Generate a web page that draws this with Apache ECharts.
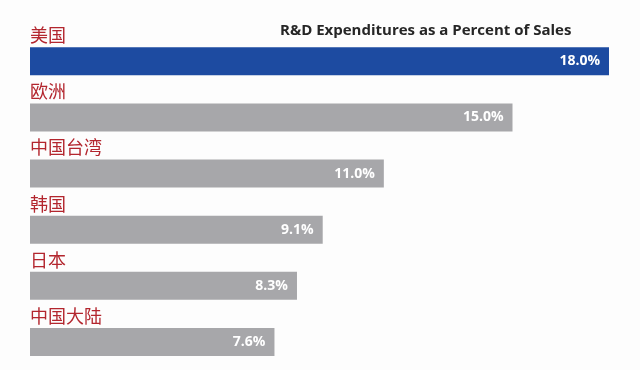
<!DOCTYPE html>
<html>
<head>
<meta charset="utf-8">
<script src="https://cdn.jsdelivr.net/npm/echarts@6/dist/echarts.min.js"></script>
<style>html,body{margin:0;padding:0;background:#fdfdfd;}#c{width:640px;height:370px;}</style>
</head>
<body>
<div id="c"></div>
<script>
var title = 'R&D Expenditures as a Percent of Sales';
var categories = ['美国', '欧洲', '中国台湾', '韩国', '日本', '中国大陆'];
var values = [18.0, 15.0, 11.0, 9.1, 8.3, 7.6];
var barColors = ['#1d4ba1', '#a7a7aa', '#a7a7aa', '#a7a7aa', '#a7a7aa', '#a7a7aa'];

var chart = echarts.init(document.getElementById('c'), null, {renderer: 'canvas'});
chart.setOption({
  backgroundColor: '#fdfdfd',
  animation: false,
  title: {
    text: title,
    left: 275,
    top: 18,
    textStyle: {fontFamily: 'Open Sans', fontWeight: 'bold', fontSize: 15, color: '#262626'}
  },
  grid: {left: 30, right: 31, top: 33.2, height: 339.6, containLabel: false},
  xAxis: {
    type: 'value', min: 0, max: 18, show: false
  },
  yAxis: {
    type: 'category',
    data: categories,
    inverse: true,
    axisLine: {show: false},
    axisTick: {show: false},
    splitLine: {show: false},
    axisLabel: {
      inside: true,
      margin: 0,
      align: 'left',
      verticalAlign: 'bottom',
      padding: [0, 0, 17, 0],
      color: '#b3262e',
      fontSize: 18,
      fontFamily: 'Noto Sans CJK SC'
    }
  },
  series: [{
    type: 'bar',
    barWidth: 28,
    data: values.map(function (v, i) { return {value: v, itemStyle: {color: barColors[i]}}; }),
    label: {
      show: true,
      position: 'insideRight',
      distance: 9,
      color: '#ffffff',
      fontFamily: 'Open Sans',
      fontWeight: 'bold',
      fontSize: 14,
      formatter: function (p) { return p.value.toFixed(1) + '%'; }
    }
  }]
});
</script>
</body>
</html>
